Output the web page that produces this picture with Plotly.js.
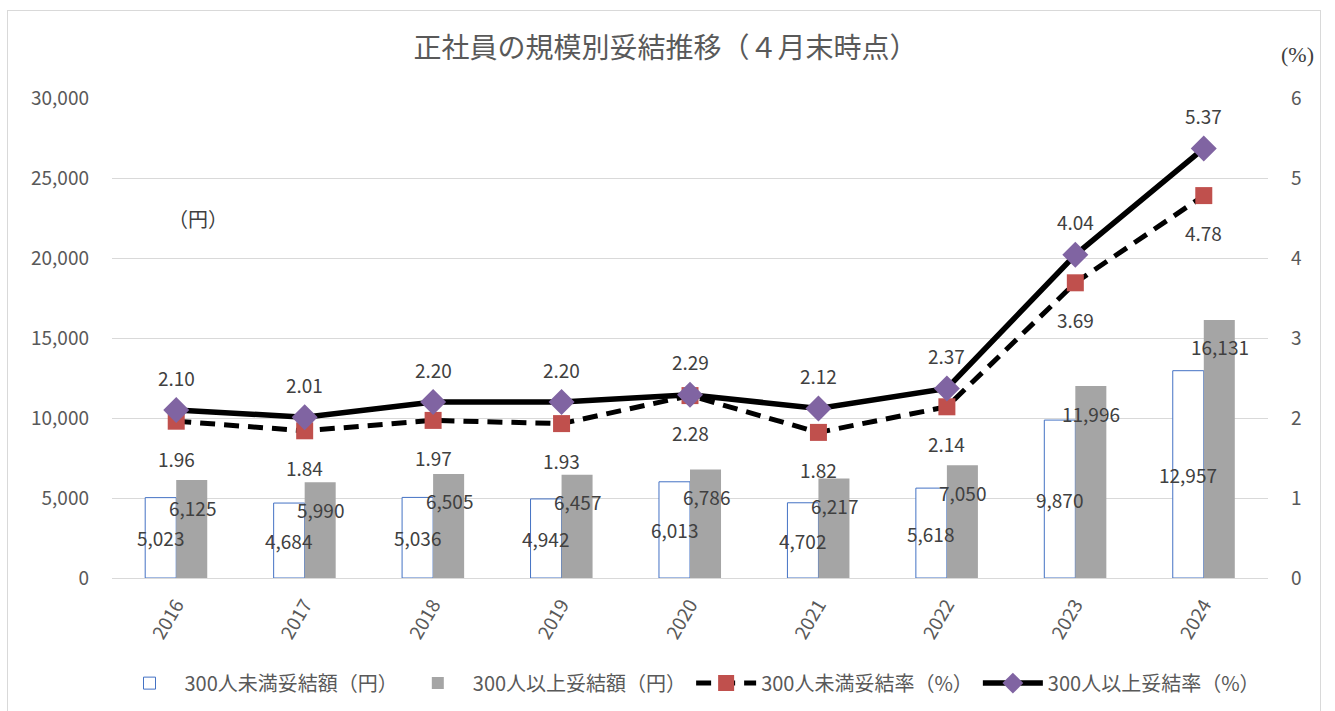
<!DOCTYPE html>
<html><head><meta charset="utf-8">
<script src="https://cdn.plot.ly/plotly-3.0.1.min.js"></script>
<style>
html,body{margin:0;padding:0;background:#fff;}
#wrap{position:absolute;left:0;top:0;width:1335px;height:711px;}
#frame{position:absolute;left:7px;top:10px;width:1314px;height:710px;border:1px solid #d9d9d9;box-sizing:border-box;pointer-events:none;}
</style></head>
<body>
<div id="wrap"><div id="chart" style="width:1335px;height:711px;"></div><div id="frame"></div></div>
<script>
const years = [2016, 2017, 2018, 2019, 2020, 2021, 2022, 2023, 2024];
const yearLabels = ['2016','2017','2018','2019','2020','2021','2022','2023','2024'];
const smallAmount = [5023, 4684, 5036, 4942, 6013, 4702, 5618, 9870, 12957];
const largeAmount = [6125, 5990, 6505, 6457, 6786, 6217, 7050, 11996, 16131];
const smallRate = [1.96, 1.84, 1.97, 1.93, 2.28, 1.82, 2.14, 3.69, 4.78];
const largeRate = [2.10, 2.01, 2.20, 2.20, 2.29, 2.12, 2.37, 4.04, 5.37];
const seriesNames = ['300人未満妥結額（円）','300人以上妥結額（円）','300人未満妥結率（%）','300人以上妥結率（%）'];

const FONT = '"Noto Sans CJK JP", "Noto Sans", sans-serif';
const TXT = '#595959';
const LBL = '#404040';

const traces = [
  {type:'bar', name:seriesNames[0], x:years, y:smallAmount,
   marker:{color:'#ffffff', line:{color:'#4472C4', width:1}}, hoverinfo:'skip'},
  {type:'bar', name:seriesNames[1], x:years, y:largeAmount,
   marker:{color:'#A5A5A5'}, hoverinfo:'skip'},
  {type:'scatter', mode:'lines+markers', name:seriesNames[2], x:years, y:smallRate, yaxis:'y2',
   line:{color:'#000000', width:5, dash:'15px,9px'},
   marker:{symbol:'square', size:17, color:'#C0504D'}, hoverinfo:'skip'},
  {type:'scatter', mode:'lines+markers', name:seriesNames[3], x:years, y:largeRate, yaxis:'y2',
   line:{color:'#000000', width:5.5},
   marker:{symbol:'diamond', size:20, color:'#8064A2'}, hoverinfo:'skip'}
];

const fmt = v => v.toLocaleString('en-US');
const annotations = [];
const lblFont = {family:FONT, size:19, color:LBL};
years.forEach((yr, i) => {
  annotations.push({x:yr, y:smallAmount[i]/2, xref:'x', yref:'y', text:fmt(smallAmount[i]),
    showarrow:false, xshift:-16, xanchor:'center', yanchor:'middle', font:lblFont});
  annotations.push({x:yr, y:largeAmount[i], xref:'x', yref:'y', text:fmt(largeAmount[i]),
    showarrow:false, xshift:16, yshift:-27, xanchor:'center', yanchor:'middle', font:lblFont});
  annotations.push({x:yr, y:largeRate[i], xref:'x', yref:'y2', text:largeRate[i].toFixed(2),
    showarrow:false, yshift:33, xanchor:'center', yanchor:'middle', font:lblFont});
  annotations.push({x:yr, y:smallRate[i], xref:'x', yref:'y2', text:smallRate[i].toFixed(2),
    showarrow:false, yshift:-37, xanchor:'center', yanchor:'middle', font:lblFont});
});
annotations.push({xref:'paper', yref:'paper', x:(198-112)/1156, y:(578-218)/480, text:'（円）',
  xanchor:'center', yanchor:'middle', showarrow:false, font:{family:FONT, size:20, color:LBL}});
annotations.push({xref:'paper', yref:'paper', x:(1297-112)/1156, y:(578-55)/480, text:'(%)',
  xanchor:'center', yanchor:'middle', showarrow:false, font:{family:'"Liberation Serif", serif', size:22, color:LBL}});

const layout = {
  width:1335, height:711,
  margin:{l:112, r:67, t:98, b:133, autoexpand:false},
  paper_bgcolor:'rgba(0,0,0,0)', plot_bgcolor:'#ffffff',
  font:{family:FONT, color:TXT, size:16},
  title:{text:'正社員の規模別妥結推移（４月末時点）', x:0.4985, xanchor:'center', y:0.932, yanchor:'middle',
    font:{family:FONT, size:28, color:TXT}},
  barmode:'group', bargap:0.517, bargroupgap:0,
  showlegend:true,
  legend:{orientation:'h', x:0.5, xanchor:'center', y:-0.219, yanchor:'middle',
    font:{family:FONT, size:20, color:TXT}, itemwidth:60, traceorder:'normal'},
  xaxis:{type:'linear', range:[2015.5, 2024.5], tickvals:years, ticktext:yearLabels, tickangle:-60,
    showgrid:false, showline:false, zeroline:false, ticks:'', automargin:false,
    tickfont:{family:FONT, size:19, color:TXT}, ticklabelstandoff:11},
  yaxis:{range:[0,30000], dtick:5000, tickformat:',d', showgrid:true, gridcolor:'#d9d9d9', gridwidth:1,
    zeroline:true, zerolinecolor:'#d9d9d9', showline:false, ticks:'', automargin:false,
    tickfont:{family:FONT, size:19, color:TXT}, ticklabelstandoff:22},
  yaxis2:{range:[0,6], dtick:1, overlaying:'y', side:'right', showgrid:false, zeroline:false,
    showline:false, ticks:'', automargin:false, tickfont:{family:FONT, size:19, color:TXT}, ticklabelstandoff:22},
  annotations:annotations
};

Plotly.newPlot('chart', traces, layout, {staticPlot:true, displayModeBar:false});
</script>
</body></html>
